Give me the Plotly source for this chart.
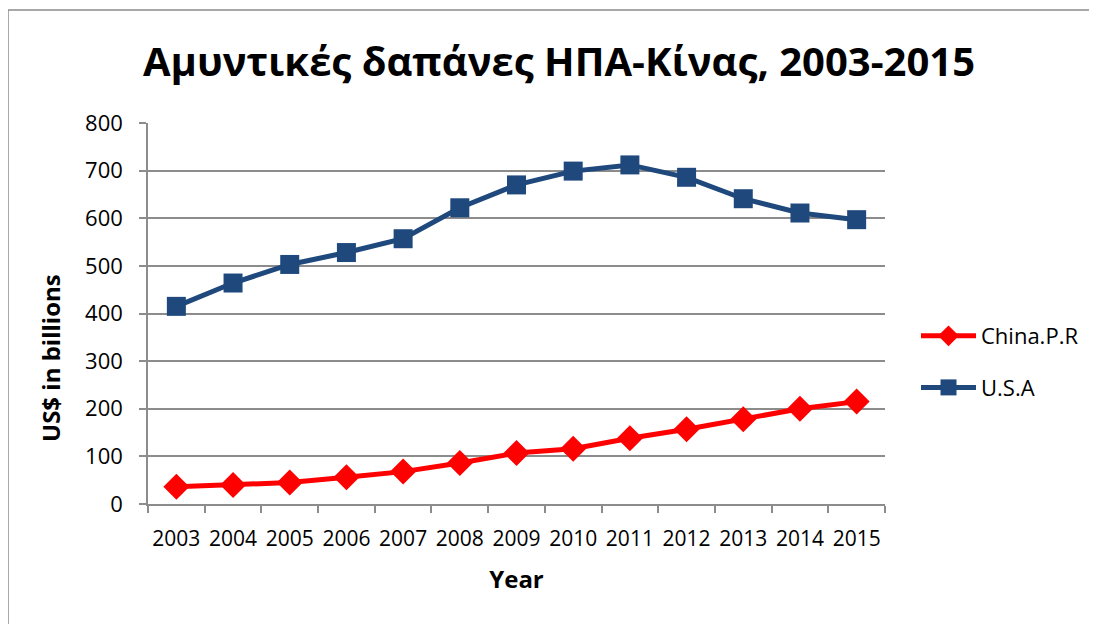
import plotly.graph_objects as go

years = ["2003", "2004", "2005", "2006", "2007", "2008", "2009",
         "2010", "2011", "2012", "2013", "2014", "2015"]
china = [36, 40, 45, 56, 68, 86, 107, 116, 138, 157, 178, 200, 215]
usa = [415, 464, 503, 528, 557, 622, 670, 699, 712, 686, 641, 611, 597]
y_ticks = [0, 100, 200, 300, 400, 500, 600, 700, 800]

title_text = "Αμυντικές δαπάνες ΗΠΑ-Κίνας, 2003-2015"
FONT = "'Open Sans', Lato, sans-serif"
GRID = "#8c8c8c"

OFF = 8  # page body margin
W, H = 1097 - OFF, 624 - OFF
# plot area in screen coords: x 148..885, y 123..504
L = 148 - OFF
T = 123 - OFF
R = W - (885 - OFF)
B = H - (504 - OFF)
pw, ph = W - L - R, H - T - B


def px(x):
    return (x - 148) / pw


def py(y):
    return (504 - y) / ph


fig = go.Figure()
fig.add_trace(go.Scatter(
    x=years, y=china, name="China.P.R", mode="lines+markers",
    line=dict(color="#FF0000", width=5),
    marker=dict(symbol="diamond", size=20, color="#FF0000"),
    legendgroup="a"))
fig.add_trace(go.Scatter(
    x=years, y=usa, name="U.S.A", mode="lines+markers",
    line=dict(color="#1F497D", width=5),
    marker=dict(symbol="square", size=19, color="#1F497D"),
    legendgroup="b"))

fig.update_layout(
    width=W, height=H,
    margin=dict(l=L, r=R, t=T, b=B, autoexpand=False),
    paper_bgcolor="white", plot_bgcolor="white",
    font=dict(family=FONT, size=22, color="black"),
    title=dict(text="<b>" + title_text + "</b>", font=dict(size=40, family=FONT, color="black"),
               x=px(559), xref="paper", xanchor="center",
               y=1 - (62 - OFF) / H, yref="container", yanchor="middle"),
    showlegend=True,
    legend=dict(x=px(916), xanchor="left", y=py(362), yanchor="middle",
                font=dict(size=22, family=FONT, color="black"),
                itemwidth=55, tracegroupgap=20, bgcolor="rgba(0,0,0,0)"),
)
fig.update_xaxes(
    type="category", tickson="boundaries", ticks="outside", ticklen=7,
    tickcolor=GRID, tickwidth=1.5, showline=True, linecolor=GRID, linewidth=1.5,
    showgrid=False, tickfont=dict(size=21, family=FONT, color="black"), tickangle=0,
    title=dict(text="<b>Year</b>", font=dict(size=24, family=FONT, color="black"), standoff=20),
    range=[-0.5, 12.5], ticklabelstandoff=15)
fig.update_yaxes(
    range=[0, 800], tickvals=y_ticks, ticks="outside", ticklen=7,
    tickcolor=GRID, tickwidth=1.5, showline=True, linecolor=GRID, linewidth=1.5,
    showgrid=True, gridcolor=GRID, gridwidth=1.5, zeroline=False,
    tickfont=dict(size=22, family=FONT, color="black"), ticklabelstandoff=12)

fig.add_annotation(text="<b>US$ in billions</b>", textangle=-90,
                   xref="paper", yref="paper", x=px(50), y=py(358),
                   xanchor="center", yanchor="middle", showarrow=False,
                   font=dict(size=24, family=FONT, color="black"))

fig.add_shape(type="rect", xref="paper", yref="paper",
              x0=px(8), x1=px(1120), y0=py(700), y1=py(10),
              line=dict(color="#8c8c8c", width=1.5), fillcolor="rgba(0,0,0,0)", layer="below")

fig.write_html("out.html")
